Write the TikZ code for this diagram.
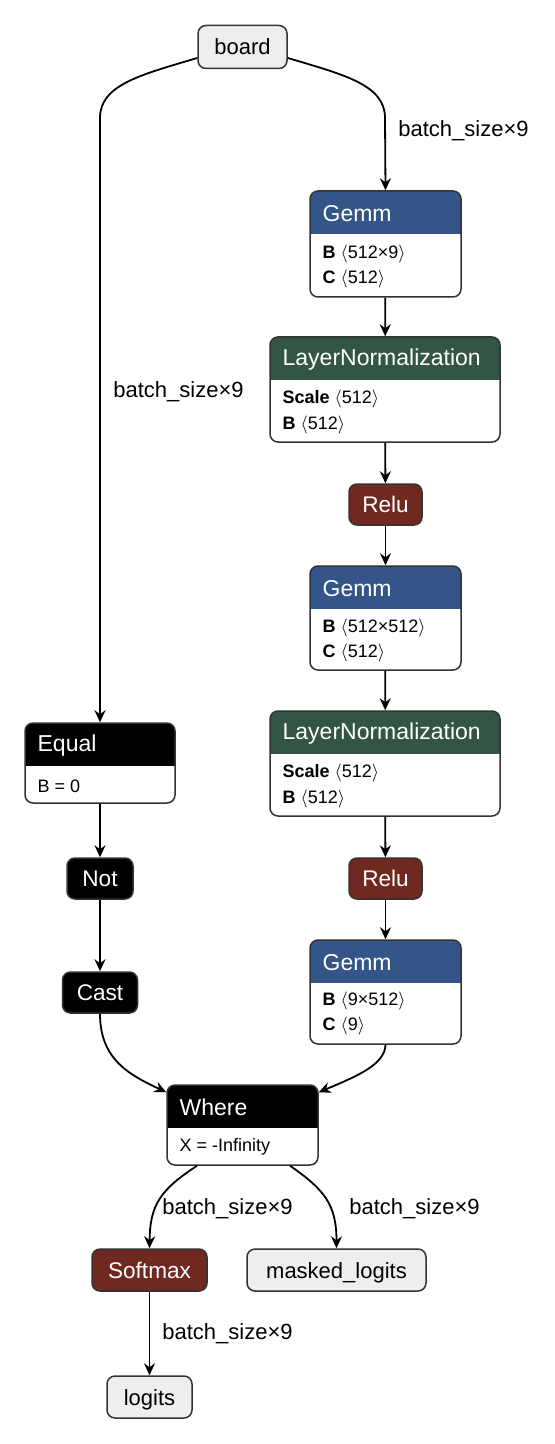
\documentclass[tikz,border=0pt]{standalone}
\usepackage{fontspec}
\setmainfont{Liberation Sans}
\usetikzlibrary{arrows.meta}
\definecolor{layerblue}{RGB}{51,85,136}
\definecolor{normgreen}{RGB}{51,85,68}
\definecolor{actred}{RGB}{112,41,33}
\definecolor{iogray}{RGB}{238,238,238}
\definecolor{linegray}{RGB}{51,51,51}
\begin{document}
\begin{tikzpicture}[x=0.5pt,y=-0.5pt,
  box/.style={draw=linegray,line width=0.75pt,rounded corners=4pt,inner sep=0pt},
  io/.style={box,fill=iogray,text height=8pt,text depth=0pt,font=\fontsize{11}{13}\selectfont},
  op/.style={box,fill=#1,text=white,text height=8pt,text depth=0pt,font=\fontsize{11.3}{13}\selectfont},
  block/.style={box,fill=white,path picture={\fill[#1,sharp corners] (path picture bounding box.north west) rectangle ([yshift=-21.5pt]path picture bounding box.north east);}},
  title/.style={anchor=west,text=white,font=\fontsize{11.5}{13}\selectfont,inner sep=0pt},
  attr/.style={anchor=west,font=\fontsize{9}{10}\selectfont,inner sep=0pt},
  lbl/.style={anchor=west,font=\fontsize{11}{13}\selectfont,inner sep=0pt},
  edge/.style={draw=black,line width=0.9pt,-{Stealth[length=6pt,width=5.5pt,inset=2pt]}}
]
  \useasboundingbox (0,0) rectangle (554,1444);
  % inputs
  \node[io,minimum width=44.5pt,minimum height=21.5pt] (board) at (242.5,47) {board};
  % right branch
  \node[block=layerblue,minimum width=75.5pt,minimum height=53pt] (gemmA) at (385.5,244) {};
  \node[title] (gemmAt) at ([xshift=6.5pt,yshift=-11.5pt]gemmA.north west) {Gemm};
  \node[attr] (gemmAb) at ([xshift=6.5pt,yshift=-32pt]gemmA.north west) {\textbf{B} $\langle$512×9$\rangle$};
  \node[attr] (gemmAc) at ([xshift=6.5pt,yshift=-44.5pt]gemmA.north west) {\textbf{C} $\langle$512$\rangle$};
  \node[block=normgreen,minimum width=115pt,minimum height=52.5pt] (normA) at (385,389.5) {};
  \node[title] (normAt) at ([xshift=6.5pt,yshift=-11.5pt]normA.north west) {LayerNormalization};
  \node[attr] (normAs) at ([xshift=6.5pt,yshift=-31.5pt]normA.north west) {\textbf{Scale} $\langle$512$\rangle$};
  \node[attr] (normAb) at ([xshift=6.5pt,yshift=-44.5pt]normA.north west) {\textbf{B} $\langle$512$\rangle$};
  \node[op=actred,minimum width=36.5pt,minimum height=20.5pt] (reluA) at (385.5,504.5) {Relu};
  \node[block=layerblue,minimum width=75.5pt,minimum height=52pt] (gemmB) at (385.5,618) {};
  \node[title] (gemmBt) at ([xshift=6.5pt,yshift=-11.5pt]gemmB.north west) {Gemm};
  \node[attr] (gemmBb) at ([xshift=6.5pt,yshift=-31.5pt]gemmB.north west) {\textbf{B} $\langle$512×512$\rangle$};
  \node[attr] (gemmBc) at ([xshift=6.5pt,yshift=-44pt]gemmB.north west) {\textbf{C} $\langle$512$\rangle$};
  \node[block=normgreen,minimum width=115pt,minimum height=52.5pt] (normB) at (385,763.5) {};
  \node[title] (normBt) at ([xshift=6.5pt,yshift=-11.5pt]normB.north west) {LayerNormalization};
  \node[attr] (normBs) at ([xshift=6.5pt,yshift=-31.5pt]normB.north west) {\textbf{Scale} $\langle$512$\rangle$};
  \node[attr] (normBb) at ([xshift=6.5pt,yshift=-44.5pt]normB.north west) {\textbf{B} $\langle$512$\rangle$};
  \node[op=actred,minimum width=36.5pt,minimum height=20.5pt] (reluB) at (385.5,878.5) {Relu};
  \node[block=layerblue,minimum width=75.5pt,minimum height=52pt] (gemmC) at (385.5,992) {};
  \node[title] (gemmCt) at ([xshift=6.5pt,yshift=-11.5pt]gemmC.north west) {Gemm};
  \node[attr] (gemmCb) at ([xshift=6.5pt,yshift=-31pt]gemmC.north west) {\textbf{B} $\langle$9×512$\rangle$};
  \node[attr] (gemmCc) at ([xshift=6.5pt,yshift=-43.5pt]gemmC.north west) {\textbf{C} $\langle$9$\rangle$};
  % left branch
  \node[block=black,minimum width=75pt,minimum height=40pt] (equal) at (100,763) {};
  \node[title] (equalt) at ([xshift=6.5pt,yshift=-11.5pt]equal.north west) {Equal};
  \node[attr] (equalb) at ([xshift=6.5pt,yshift=-32pt]equal.north west) {B = 0};
  \node[op=black,minimum width=33pt,minimum height=20.5pt] (not) at (100,878.5) {Not};
  \node[op=black,minimum width=37.5pt,minimum height=20.5pt] (cast) at (100,992.5) {Cast};
  % merge
  \node[block=black,minimum width=75.5pt,minimum height=40pt] (where) at (242.5,1125) {};
  \node[title] (wheret) at ([xshift=6.5pt,yshift=-11.5pt]where.north west) {Where};
  \node[attr] (whereb) at ([xshift=6.5pt,yshift=-31.5pt]where.north west) {X = -Infinity};
  % outputs
  \node[op=actred,minimum width=57.5pt,minimum height=21pt] (softmax) at (149.5,1270) {Softmax};
  \node[io,minimum width=89.5pt,minimum height=21pt] (masked) at (336.5,1270) {masked\_logits};
  \node[io,minimum width=42.5pt,minimum height=21pt] (logits) at (149.5,1397) {logits};
  % edges
  \draw[edge] ([yshift=-5.5pt]board.west) .. controls (140,75) and (100,85) .. (100,118) -- (equal.north);
  \draw[edge] ([yshift=-5.5pt]board.east) .. controls (345,75) and (385,85) .. (385,118) -- (gemmA.north);
  \node[lbl] (lblA) at (398,131) {batch\_size×9};
  \node[lbl] (lblB) at (113,392) {batch\_size×9};
  \draw[edge] (gemmA) -- (normA);
  \draw[edge] (normA) -- (reluA);
  \draw[edge] (reluA) -- (gemmB);
  \draw[edge] (gemmB) -- (normB);
  \draw[edge] (normB) -- (reluB);
  \draw[edge] (reluB) -- (gemmC);
  \draw[edge] (equal) -- (not);
  \draw[edge] (not) -- (cast);
  \draw[edge] (cast.south) .. controls (100,1060) and (130,1075) .. ([yshift=-4pt]where.north west);
  \draw[edge] (gemmC.south) .. controls (385,1065) and (355,1077) .. ([yshift=-4pt]where.north east);
  \draw[edge] ([xshift=-22.75pt]where.south) .. controls (160,1190) and (150,1205) .. (softmax.north);
  \draw[edge] ([xshift=23.75pt]where.south) .. controls (325,1190) and (336.5,1205) .. (masked.north);
  \node[lbl] (lblC) at (162,1209) {batch\_size×9};
  \node[lbl] (lblD) at (349,1209) {batch\_size×9};
  \draw[edge] (softmax) -- (logits);
  \node[lbl] (lblE) at (162,1334) {batch\_size×9};
\end{tikzpicture}
\end{document}
